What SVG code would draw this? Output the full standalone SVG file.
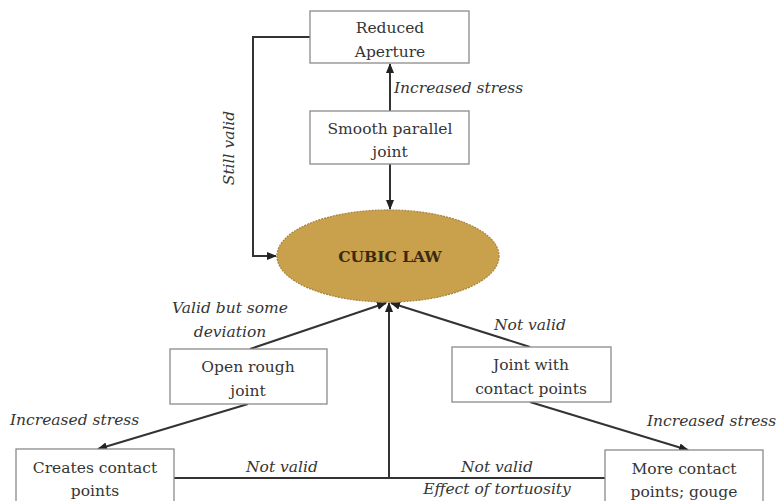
<svg xmlns="http://www.w3.org/2000/svg" width="778" height="501" viewBox="0 0 778 501">
<style>
.box{fill:#fff;stroke:#8a8a8a;stroke-width:1.3}
.t{font-family:"DejaVu Serif","Liberation Serif",serif;font-size:15.5px;fill:#353535;text-anchor:middle}
.l{font-family:"DejaVu Serif","Liberation Serif",serif;font-size:15.5px;font-style:italic;fill:#353535}
.c{fill:none;stroke:#333;stroke-width:2}
</style>
<defs>
<marker id="ah" markerWidth="10" markerHeight="10" refX="9" refY="5" orient="auto" markerUnits="userSpaceOnUse">
<path d="M0,1 L10,5 L0,9 Z" fill="#222"/>
</marker>
</defs>
<rect width="778" height="501" fill="#fff"/>
<g id="connectors">
<line class="c" x1="390" y1="111" x2="390" y2="64" marker-end="url(#ah)"/>
<line class="c" x1="390" y1="164" x2="390" y2="209" marker-end="url(#ah)"/>
<polyline class="c" points="310,37 253,37 253,256 276,256" marker-end="url(#ah)"/>
<line class="c" x1="250" y1="349" x2="386" y2="303" marker-end="url(#ah)"/>
<line class="c" x1="530" y1="347" x2="391" y2="303" marker-end="url(#ah)"/>
<polyline class="c" points="174,478 389,478 606,478"/>
<line class="c" x1="389" y1="478" x2="389" y2="303" marker-end="url(#ah)"/>
<line class="c" x1="248" y1="404" x2="98" y2="449" marker-end="url(#ah)"/>
<line class="c" x1="530" y1="402" x2="688" y2="450" marker-end="url(#ah)"/>
</g>
<g id="labels">
<text class="l" x="394" y="93">Increased stress</text>
<text class="l" transform="translate(234,148) rotate(-90)" text-anchor="middle">Still valid</text>
<text class="l" x="230" y="313" text-anchor="middle">Valid but some</text>
<text class="l" x="230" y="337" text-anchor="middle">deviation</text>
<text class="l" x="530" y="330" text-anchor="middle">Not valid</text>
<text class="l" x="10" y="425">Increased stress</text>
<text class="l" x="647" y="426">Increased stress</text>
<text class="l" x="282" y="472" text-anchor="middle">Not valid</text>
<text class="l" x="497" y="472" text-anchor="middle">Not valid</text>
<text class="l" x="497" y="494" text-anchor="middle">Effect of tortuosity</text>
</g>
<g id="reduced">
<rect class="box" x="310" y="11" width="159" height="52"/>
<text class="t" x="390" y="33">Reduced</text>
<text class="t" x="390" y="57">Aperture</text>
</g>
<g id="smooth">
<rect class="box" x="310" y="111" width="159" height="53"/>
<text class="t" x="390" y="134">Smooth parallel</text>
<text class="t" x="390" y="157">joint</text>
</g>
<g id="cubic">
<ellipse cx="388" cy="256" rx="111" ry="46" fill="#c9a04c" stroke="#a8863a" stroke-width="1.3" stroke-dasharray="2 1"/>
<text x="390" y="262" font-family="'DejaVu Serif','Liberation Serif',serif" font-size="15.5" font-weight="bold" fill="#3a2a10" text-anchor="middle">CUBIC LAW</text>
</g>
<g id="open">
<rect class="box" x="170" y="349" width="157" height="55"/>
<text class="t" x="248" y="372">Open rough</text>
<text class="t" x="248" y="396">joint</text>
</g>
<g id="jointcontact">
<rect class="box" x="452" y="347" width="159" height="55"/>
<text class="t" x="531" y="370">Joint with</text>
<text class="t" x="531" y="394">contact points</text>
</g>
<g id="creates">
<rect class="box" x="16" y="449" width="158" height="60"/>
<text class="t" x="95" y="473">Creates contact</text>
<text class="t" x="95" y="496">points</text>
</g>
<g id="more">
<rect class="box" x="605" y="450" width="158" height="60"/>
<text class="t" x="684" y="474">More contact</text>
<text class="t" x="684" y="497">points; gouge</text>
</g>
</svg>
